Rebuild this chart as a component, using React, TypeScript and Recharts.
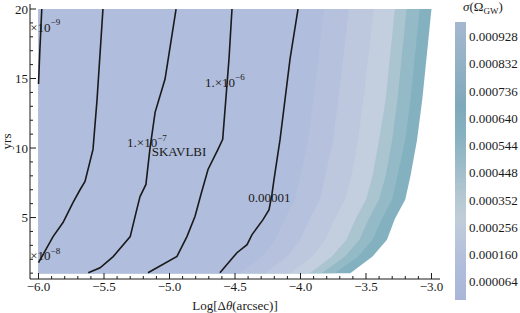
import React from 'react';
import { ComposedChart, Area, Line, XAxis, YAxis, ReferenceDot, Legend } from 'recharts';

const SERIF = '"Liberation Serif", "Times New Roman", serif';
const INK = '#1a1a1a';

// shaded field: sample rows (yrs) and the right edge of each colour band, Log[Δθ]
const FIELD_LEFT = -6;
const FIELD_YRS = [1, 2.2, 3.4, 4.9, 6.3, 8, 10.6, 13.5, 20];
const BAND_A = [-3.62, -3.45, -3.34, -3.28, -3.2, -3.16, -3.11, -3.07, -3.0];
const BAND_B = [-3.74, -3.56, -3.45, -3.38, -3.3, -3.26, -3.2, -3.16, -3.09];
const BAND_C = [-3.84, -3.66, -3.55, -3.48, -3.4, -3.35, -3.3, -3.26, -3.19];
const BAND_D = [-3.93, -3.76, -3.65, -3.58, -3.5, -3.45, -3.4, -3.35, -3.28];
const BAND_E = [-4.08, -3.91, -3.81, -3.74, -3.66, -3.61, -3.56, -3.52, -3.44];
const BAND_F = [-4.27, -4.1, -4.0, -3.93, -3.85, -3.81, -3.75, -3.71, -3.63];
const BAND_G = [-4.46, -4.29, -4.19, -4.12, -4.04, -4.0, -3.94, -3.9, -3.82];
const BAND_KEYS = ['a', 'b', 'c', 'd', 'e', 'f', 'g'];
const BAND_COLORS = ['#84b1bf', '#93bac6', '#abc5d0', '#c3cfdf', '#bdc8df', '#b6c2dd', '#b0bddc'];

// contour lines of sigma(Omega_GW)
const C9_X = [-5.975, -5.99, -6.0];
const C9_YR = [20, 17, 14.6];
const C8_X = [-5.508, -5.553, -5.584, -5.645, -5.683, -5.737, -5.813, -5.889, -6.0];
const C8_YR = [20, 13.5, 9.9, 7.6, 7.0, 6.08, 4.64, 3.63, 1.75];
const C7_X = [-4.95, -5.034, -5.11, -5.149, -5.18, -5.225, -5.25, -5.3, -5.43, -5.53, -5.62];
const C7_YR = [20, 14.96, 12.57, 9.98, 7.38, 6.51, 5.57, 3.63, 2.19, 1.39, 1.03];
const C6_X = [-4.523, -4.546, -4.594, -4.63, -4.706, -4.76, -4.805, -4.866, -4.943, -5.164];
const C6_YR = [20, 16.39, 10.62, 9.9, 8.46, 6.66, 5.09, 3.65, 2.21, 1.03];
const C5_X = [-4.019, -4.08, -4.118, -4.156, -4.202, -4.218, -4.24, -4.286, -4.37, -4.408, -4.485, -4.615];
const C5_YR = [20, 16.39, 13.5, 10.62, 7.74, 6.66, 5.57, 4.85, 3.77, 3.05, 2.47, 1.03];

// contour labels (the "1." of the two left ones falls outside the frame)
const TAG_X = [-6.063, -6.063, -5.324, -4.729, -4.398];
const TAG_YR = [18.7, 2.26, 10.37, 14.73, 6.44];
const TAG_BASE = ['×10', '×10', '1.×10', '1.×10', '0.00001'];
const TAG_EXP = ['−9', '−8', '−7', '−6', ''];
const PLOT_LABEL = 'SKAVLBI';
const PLOT_LABEL_AT = { x: -5.136, yr: 9.72 };

const X_TICKS = [-6, -5.9, -5.8, -5.7, -5.6, -5.5, -5.4, -5.3, -5.2, -5.1, -5, -4.9, -4.8, -4.7, -4.6, -4.5,
  -4.4, -4.3, -4.2, -4.1, -4, -3.9, -3.8, -3.7, -3.6, -3.5, -3.4, -3.3, -3.2, -3.1, -3];
const Y_TICKS = [1, 2, 3, 4, 5, 6, 7, 8, 9, 10, 11, 12, 13, 14, 15, 16, 17, 18, 19, 20];
const X_DOMAIN = [-6.065, -2.935];
const Y_DOMAIN = [0.58, 20.36];

const COLORBAR_LEVELS = [0.000928, 0.000832, 0.000736, 0.00064, 0.000544, 0.000448, 0.000352, 0.000256, 0.00016, 0.000064];
const COLORBAR_MAX = 0.00098;

const bands = [BAND_A, BAND_B, BAND_C, BAND_D, BAND_E, BAND_F, BAND_G];
const fieldRows = FIELD_YRS.map((yr, i) => {
  const row: Record<string, any> = { yr };
  BAND_KEYS.forEach((k, j) => { row[k] = [FIELD_LEFT, bands[j][i]]; });
  return row;
});

const toPts = (xs: number[], ys: number[]) => xs.map((x, i) => ({ x, yr: ys[i] }));
const contours = [toPts(C9_X, C9_YR), toPts(C8_X, C8_YR), toPts(C7_X, C7_YR), toPts(C6_X, C6_YR), toPts(C5_X, C5_YR)];

const isHalf = (v: number) => Math.abs(v * 2 - Math.round(v * 2)) < 1e-6;
const fmtX = (v: number) => v.toFixed(1).replace('-', '−');

function BottomTick({ x, y, payload }: any) {
  const major = isHalf(payload.value);
  return (
    <g>
      <line x1={x} x2={x} y1={y} y2={y - (major ? 6 : 3)} stroke={INK} />
      {major && (
        <text x={x} y={y + 12} textAnchor="middle" fontFamily={SERIF} fontSize={13} fill={INK}>
          {fmtX(payload.value)}
        </text>
      )}
    </g>
  );
}

function TopTick({ x, y, payload }: any) {
  const major = isHalf(payload.value);
  return <line x1={x} x2={x} y1={y} y2={y + (major ? 6 : 3)} stroke={INK} />;
}

function LeftTick({ x, y, payload }: any) {
  const major = payload.value % 5 === 0;
  return (
    <g>
      <line x1={x} x2={x + (major ? 6 : 3)} y1={y} y2={y} stroke={INK} />
      {major && (
        <text x={x - 2} y={y} textAnchor="end" dominantBaseline="central" fontFamily={SERIF} fontSize={13} fill={INK}>
          {payload.value}
        </text>
      )}
    </g>
  );
}

function RightTick({ x, y, payload }: any) {
  const major = payload.value % 5 === 0;
  return <line x1={x} x2={x - (major ? 6 : 3)} y1={y} y2={y} stroke={INK} />;
}

function XTitle({ viewBox }: any) {
  return (
    <text x={viewBox.x + viewBox.width / 2} y={viewBox.y + 31} textAnchor="middle" fontFamily={SERIF} fontSize={13} fill={INK}>
      Log[Δ<tspan fontStyle="italic">θ</tspan>(arcsec)]
    </text>
  );
}

function YTitle({ viewBox }: any) {
  const cx = 6;
  const cy = viewBox.y + viewBox.height / 2;
  return (
    <text x={cx} y={cy} transform={`rotate(-90 ${cx} ${cy})`} textAnchor="middle" dominantBaseline="central"
      fontFamily={SERIF} fontSize={13} fill={INK}>
      yrs
    </text>
  );
}

function Tag({ viewBox, base, exp, size = 13 }: any) {
  return (
    <text x={viewBox.x} y={viewBox.y} dominantBaseline="central" fontFamily={SERIF} fontSize={size} fill={INK}>
      {base}
      {exp && <tspan dy={-5} fontSize={9}>{exp}</tspan>}
    </text>
  );
}

function ColorBar() {
  const top = 22;
  const h = 278;
  return (
    <svg width={80} height={313} style={{ display: 'block' }}>
      <defs>
        <linearGradient id="sigmaBar" x1="0" y1="0" x2="0" y2="1">
          <stop offset="0" stopColor="#a4b8d0" />
          <stop offset="0.12" stopColor="#97b3c8" />
          <stop offset="0.3" stopColor="#7fa9ba" />
          <stop offset="0.42" stopColor="#89b2c1" />
          <stop offset="0.52" stopColor="#9dbcc9" />
          <stop offset="0.62" stopColor="#b2c7d1" />
          <stop offset="0.71" stopColor="#c0cdd9" />
          <stop offset="0.8" stopColor="#b8c4dc" />
          <stop offset="0.9" stopColor="#aebbda" />
          <stop offset="1" stopColor="#a9b6d8" />
        </linearGradient>
      </defs>
      <text x={23} y={11} fontFamily={SERIF} fontSize={13} fill={INK}>
        <tspan fontStyle="italic">σ</tspan>(Ω<tspan fontSize={9} dy={3}>GW</tspan><tspan dy={-3}>)</tspan>
      </text>
      <rect x={15} y={top} width={11} height={h} fill="url(#sigmaBar)" />
      {COLORBAR_LEVELS.map((v) => (
        <text key={v} x={29} y={top + ((COLORBAR_MAX - v) / COLORBAR_MAX) * h} dominantBaseline="central"
          fontFamily={SERIF} fontSize={13} fill={INK}>
          {v.toFixed(6)}
        </text>
      ))}
    </svg>
  );
}

export default function App() {
  return (
    <div style={{ width: 520, height: 313 }}>
      <style>{'body{margin:0}'}</style>
      <ComposedChart width={520} height={313} layout="vertical" data={fieldRows}
        margin={{ top: 4, right: 80, bottom: 0, left: 0 }}>
        <XAxis type="number" domain={X_DOMAIN} allowDataOverflow ticks={X_TICKS} interval={0}
          tickLine={false} tickSize={0} tickMargin={0} tick={<BottomTick />} height={34}
          axisLine={{ stroke: INK }} label={<XTitle />} />
        <XAxis xAxisId="top" orientation="top" type="number" domain={X_DOMAIN} allowDataOverflow ticks={X_TICKS}
          interval={0} tickLine={false} tickSize={0} tickMargin={0} tick={<TopTick />} height={0}
          axisLine={{ stroke: INK }} />
        <YAxis type="number" dataKey="yr" reversed domain={Y_DOMAIN} allowDataOverflow ticks={Y_TICKS} interval={0}
          tickLine={false} tickSize={0} tickMargin={0} tick={<LeftTick />} width={30}
          axisLine={{ stroke: INK }} label={<YTitle />} />
        <YAxis yAxisId="right" orientation="right" type="number" dataKey="yr" reversed domain={Y_DOMAIN}
          allowDataOverflow ticks={Y_TICKS} interval={0} tickLine={false} tickSize={0} tickMargin={0}
          tick={<RightTick />} width={0} axisLine={{ stroke: INK }} />
        {BAND_KEYS.map((k, j) => (
          <Area key={k} dataKey={k} type="linear" stroke="none" fill={BAND_COLORS[j]}
            fillOpacity={1} isAnimationActive={false} dot={false} activeDot={false} />
        ))}
        {contours.map((pts, i) => (
          <Line key={i} data={pts} dataKey="x" type="linear" stroke={INK} strokeWidth={1.6} dot={false}
            activeDot={false} isAnimationActive={false} />
        ))}
        {TAG_X.map((x, i) => (
          <ReferenceDot key={i} x={x} y={TAG_YR[i]} r={0} fill="none" stroke="none" ifOverflow="visible"
            label={<Tag base={TAG_BASE[i]} exp={TAG_EXP[i]} />} />
        ))}
        <ReferenceDot x={PLOT_LABEL_AT.x} y={PLOT_LABEL_AT.yr} r={0} fill="none" stroke="none" ifOverflow="visible"
          label={<Tag base={PLOT_LABEL} exp="" />} />
        <Legend content={() => <ColorBar />} layout="vertical" align="center" verticalAlign="middle"
          wrapperStyle={{ left: 440, top: 0, width: 80, height: 313 }} />
      </ComposedChart>
    </div>
  );
}
